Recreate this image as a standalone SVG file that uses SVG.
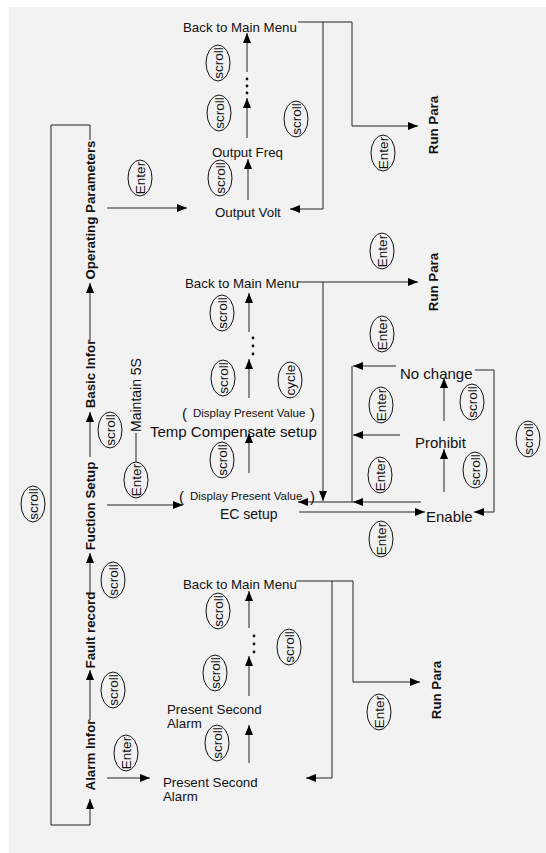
<svg xmlns="http://www.w3.org/2000/svg" width="546" height="853" viewBox="0 0 546 853">
<style>
text{font-family:"Liberation Sans",Arial,sans-serif;fill:#111}
.b{font-weight:bold;font-size:13.3px}
.t{font-size:13.3px}
.l{font-size:15px}
.s{font-size:11.5px}
.e{fill:none;stroke:#111;stroke-width:1}
.k{font-size:13.5px;text-anchor:middle}
.c{fill:none;stroke:#222;stroke-width:1}
.a{marker-end:url(#ah)}
.d{fill:#111}
</style>
<defs>
<marker id="ah" markerUnits="userSpaceOnUse" markerWidth="11" markerHeight="9" refX="10" refY="4" orient="auto">
<path d="M0,0 L10,4 L0,8 z" fill="#000"/>
</marker>
</defs>
<rect x="9" y="7" width="537" height="846" fill="#f2f2f2"/>

<g id="connectors">
<polyline class="c a" points="90,140 90,125 51,125 51,825 90,825 90,799"/>
<line class="c a" x1="90" y1="341" x2="90" y2="283"/>
<line class="c a" x1="90" y1="457" x2="90" y2="412"/>
<line class="c a" x1="90" y1="593" x2="90" y2="553"/>
<line class="c a" x1="90" y1="720" x2="90" y2="670"/>
<line class="c a" x1="107" y1="208" x2="187" y2="208"/>
<line class="c a" x1="107" y1="505" x2="183" y2="505"/>
<line class="c a" x1="107" y1="778" x2="150" y2="778"/>
<line class="c" x1="136" y1="433" x2="136" y2="462"/>
<!-- block 1 -->
<line class="c a" x1="248" y1="200" x2="248" y2="159"/>
<line class="c a" x1="247" y1="138" x2="247" y2="98"/>
<line class="c a" x1="247" y1="72" x2="247" y2="33"/>
<circle class="d" cx="247" cy="79" r="1.4"/><circle class="d" cx="247" cy="86" r="1.4"/><circle class="d" cx="247" cy="93" r="1.4"/>
<polyline class="c" points="298,22 352,22 352,126"/>
<polyline class="c a" points="323,22 323,209 290,209"/>
<line class="c a" x1="352" y1="126" x2="418" y2="126"/>
<!-- block 2 -->
<line class="c a" x1="298" y1="282" x2="418" y2="282"/>
<line class="c a" x1="323" y1="282" x2="323" y2="501"/>
<line class="c a" x1="249" y1="332" x2="249" y2="293"/>
<line class="c a" x1="249" y1="398" x2="249" y2="359"/>
<circle class="d" cx="253" cy="338" r="1.4"/><circle class="d" cx="253" cy="346" r="1.4"/><circle class="d" cx="253" cy="354" r="1.4"/>
<line class="c a" x1="249" y1="473" x2="249" y2="433"/>
<!-- EC setup loop -->
<polyline class="c a" points="475,370 494,370 494,512 474,512"/>
<line class="c a" x1="396" y1="366" x2="353" y2="366"/>
<line class="c" x1="352" y1="366" x2="352" y2="502"/>
<line class="c a" x1="400" y1="435" x2="353" y2="435"/>
<line class="c a" x1="421" y1="502" x2="353" y2="502"/>
<line class="c a" x1="353" y1="502" x2="298" y2="502"/>
<line class="c a" x1="299" y1="512" x2="425" y2="512"/>
<line class="c a" x1="444" y1="492" x2="444" y2="449"/>
<line class="c a" x1="444" y1="421" x2="444" y2="378"/>
<!-- block 3 -->
<line class="c a" x1="249" y1="763" x2="249" y2="725"/>
<line class="c a" x1="249" y1="696" x2="249" y2="656"/>
<circle class="d" cx="254" cy="636" r="1.4"/><circle class="d" cx="254" cy="644" r="1.4"/><circle class="d" cx="254" cy="652" r="1.4"/>
<line class="c a" x1="249" y1="628" x2="249" y2="591"/>
<polyline class="c" points="296,581 353,581 353,682"/>
<polyline class="c a" points="332,581 332,778 306,778"/>
<line class="c a" x1="353" y1="682" x2="420" y2="682"/>
</g>

<!-- main menu column -->
<g id="n-operating"><text class="b" text-anchor="middle" transform="translate(95,210) rotate(-90)">Operating Parameters</text></g>
<g id="n-basic"><text class="b" text-anchor="middle" transform="translate(95,374) rotate(-90)">Basic Infor</text></g>
<g id="n-fuction"><text class="b" text-anchor="middle" transform="translate(95,506) rotate(-90)">Fuction Setup</text></g>
<g id="n-fault"><text class="b" text-anchor="middle" transform="translate(95,630) rotate(-90)">Fault record</text></g>
<g id="n-alarm"><text class="b" text-anchor="middle" transform="translate(95,755) rotate(-90)">Alarm Infor</text></g>
<g id="n-maintain"><text style="font-size:14px" text-anchor="middle" transform="translate(141,395) rotate(-90)">Maintain 5S</text></g>

<!-- run para -->
<g id="n-runpara1"><text class="b" text-anchor="middle" transform="translate(438,125) rotate(-90)">Run Para</text></g>
<g id="n-runpara2"><text class="b" text-anchor="middle" transform="translate(438,282) rotate(-90)">Run Para</text></g>
<g id="n-runpara3"><text class="b" text-anchor="middle" transform="translate(441,690) rotate(-90)">Run Para</text></g>

<!-- block 1 -->
<g id="n-back1"><text class="t" x="183" y="32">Back to Main Menu</text></g>
<g id="n-freq"><text class="t" x="212" y="157">Output Freq</text></g>
<g id="n-volt"><text class="t" x="215" y="217">Output Volt</text></g>

<!-- block 2 -->
<g id="n-back2"><text class="t" x="185" y="288">Back to Main Menu</text></g>
<g id="n-temp">
<text class="l" x="182" y="419">(</text>
<text class="s" x="193" y="417">Display Present Value</text>
<text class="l" x="310" y="419">)</text>
<text class="l" x="150" y="437">Temp Compensate setup</text>
</g>
<g id="n-ec">
<text class="l" x="179" y="502">(</text>
<text class="s" x="190" y="500">Display Present Value</text>
<text class="l" x="310" y="502">)</text>
<text class="l" x="220" y="519" style="font-size:14px">EC setup</text>
</g>
<g id="n-nochange"><text class="l" x="400" y="379">No change</text></g>
<g id="n-prohibit"><text class="l" x="415" y="448">Prohibit</text></g>
<g id="n-enable"><text class="l" x="426" y="522">Enable</text></g>

<!-- block 3 -->
<g id="n-back3"><text class="t" x="183" y="589">Back to Main Menu</text></g>
<g id="n-psa2"><text class="t" x="167" y="714">Present Second</text><text class="t" x="167" y="728">Alarm</text></g>
<g id="n-psa1"><text class="t" x="163" y="787">Present Second</text><text class="t" x="163" y="801">Alarm</text></g>

<!-- key ellipses -->
<g id="keys">
<g><ellipse class="e" cx="218" cy="63" rx="12" ry="18"/><text class="k" transform="translate(222.5,63) rotate(-90)">scroll</text></g>
<g><ellipse class="e" cx="219" cy="113" rx="12" ry="18"/><text class="k" transform="translate(223.5,113) rotate(-90)">scroll</text></g>
<g><ellipse class="e" cx="220" cy="178" rx="12" ry="18"/><text class="k" transform="translate(224.5,178) rotate(-90)">scroll</text></g>
<g><ellipse class="e" cx="140" cy="178" rx="12" ry="18"/><text class="k" transform="translate(144.5,178) rotate(-90)">Enter</text></g>
<g><ellipse class="e" cx="296" cy="119" rx="12" ry="18"/><text class="k" transform="translate(300.5,119) rotate(-90)">scroll</text></g>
<g><ellipse class="e" cx="383" cy="153" rx="12" ry="18"/><text class="k" transform="translate(387.5,153) rotate(-90)">Enter</text></g>

<g><ellipse class="e" cx="382" cy="251" rx="12" ry="18"/><text class="k" transform="translate(386.5,251) rotate(-90)">Enter</text></g>
<g><ellipse class="e" cx="222" cy="313" rx="12" ry="18"/><text class="k" transform="translate(226.5,313) rotate(-90)">scroll</text></g>
<g><ellipse class="e" cx="223" cy="378" rx="12" ry="18"/><text class="k" transform="translate(227.5,378) rotate(-90)">scroll</text></g>
<g><ellipse class="e" cx="290" cy="380" rx="12" ry="18"/><text class="k" transform="translate(294.5,380) rotate(-90)">cycle</text></g>
<g><ellipse class="e" cx="222" cy="460" rx="12" ry="18"/><text class="k" transform="translate(226.5,460) rotate(-90)">scroll</text></g>
<g><ellipse class="e" cx="382" cy="334" rx="12" ry="18"/><text class="k" transform="translate(386.5,334) rotate(-90)">Enter</text></g>
<g><ellipse class="e" cx="381" cy="405" rx="12" ry="18"/><text class="k" transform="translate(385.5,405) rotate(-90)">Enter</text></g>
<g><ellipse class="e" cx="380" cy="475" rx="12" ry="18"/><text class="k" transform="translate(384.5,475) rotate(-90)">Enter</text></g>
<g><ellipse class="e" cx="381" cy="539" rx="12" ry="18"/><text class="k" transform="translate(385.5,539) rotate(-90)">Enter</text></g>
<g><ellipse class="e" cx="472" cy="402" rx="12" ry="18"/><text class="k" transform="translate(476.5,402) rotate(-90)">scroll</text></g>
<g><ellipse class="e" cx="475" cy="470" rx="12" ry="18"/><text class="k" transform="translate(479.5,470) rotate(-90)">scroll</text></g>
<g><ellipse class="e" cx="528" cy="439" rx="12" ry="18"/><text class="k" transform="translate(532.5,439) rotate(-90)">scroll</text></g>
<g><ellipse class="e" cx="110" cy="430" rx="12" ry="18"/><text class="k" transform="translate(114.5,430) rotate(-90)">scroll</text></g>
<g><ellipse class="e" cx="136" cy="480" rx="12" ry="18"/><text class="k" transform="translate(140.5,480) rotate(-90)">Enter</text></g>
<g><ellipse class="e" cx="33" cy="504" rx="12" ry="18"/><text class="k" transform="translate(37.5,504) rotate(-90)">scroll</text></g>

<g><ellipse class="e" cx="113" cy="580" rx="12" ry="18"/><text class="k" transform="translate(117.5,580) rotate(-90)">scroll</text></g>
<g><ellipse class="e" cx="113" cy="690" rx="12" ry="18"/><text class="k" transform="translate(117.5,690) rotate(-90)">scroll</text></g>
<g><ellipse class="e" cx="126" cy="753" rx="12" ry="18"/><text class="k" transform="translate(130.5,753) rotate(-90)">Enter</text></g>
<g><ellipse class="e" cx="218" cy="611" rx="12" ry="18"/><text class="k" transform="translate(222.5,611) rotate(-90)">scroll</text></g>
<g><ellipse class="e" cx="215" cy="673" rx="12" ry="18"/><text class="k" transform="translate(219.5,673) rotate(-90)">scroll</text></g>
<g><ellipse class="e" cx="217" cy="743" rx="12" ry="18"/><text class="k" transform="translate(221.5,743) rotate(-90)">scroll</text></g>
<g><ellipse class="e" cx="289" cy="647" rx="12" ry="18"/><text class="k" transform="translate(293.5,647) rotate(-90)">scroll</text></g>
<g><ellipse class="e" cx="379" cy="712" rx="12" ry="18"/><text class="k" transform="translate(383.5,712) rotate(-90)">Enter</text></g>
</g>
</svg>
